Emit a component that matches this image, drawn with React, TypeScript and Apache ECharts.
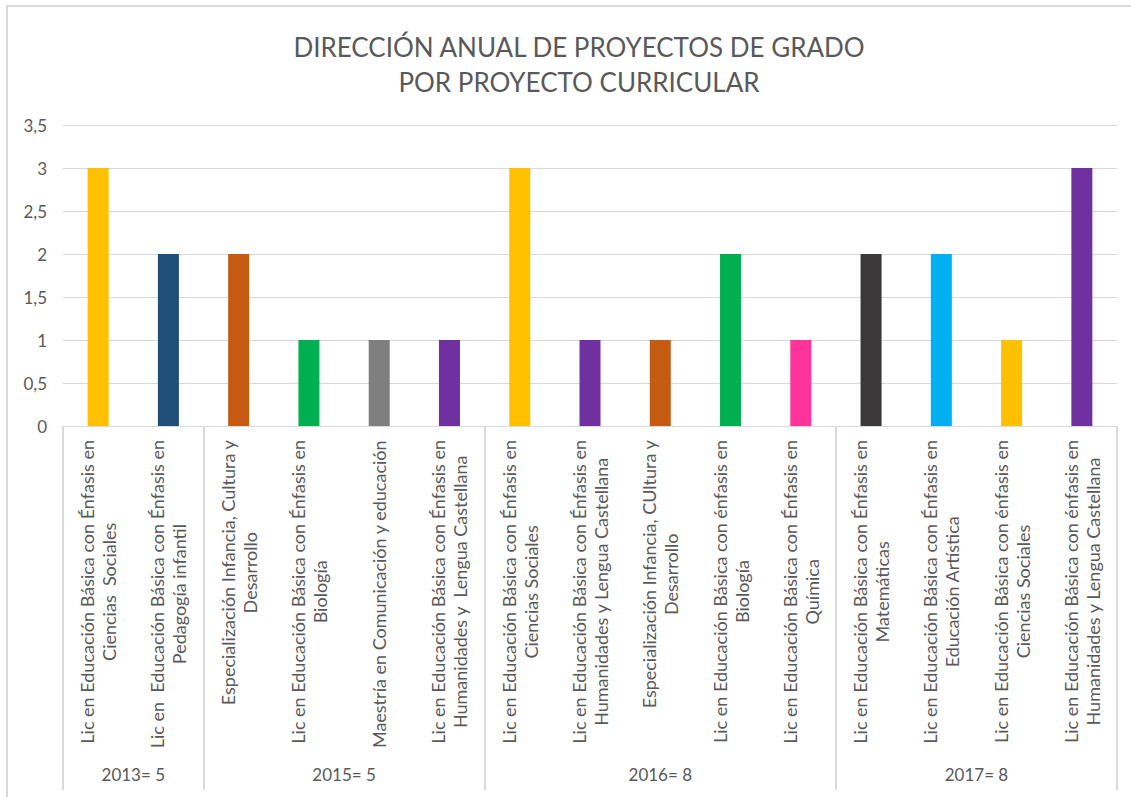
import React, { useEffect, useRef } from "react";
import * as echarts from "echarts";

const titleLines = ["DIRECCIÓN ANUAL DE PROYECTOS DE GRADO", "POR PROYECTO CURRICULAR"];

const categories = [
  "Lic en Educación Básica con Énfasis en\nCiencias  Sociales",
  "Lic en  Educación Básica con Énfasis en\nPedagogía infantil",
  "Especialización Infancia, Cultura y\nDesarrollo",
  "Lic en Educación Básica con Énfasis en\nBiología",
  "Maestría en Comunicación y educación",
  "Lic en Educación Básica con Énfasis en\nHumanidades y  Lengua Castellana",
  "Lic en Educación Básica con Énfasis en\nCiencias Sociales",
  "Lic en Educación Básica con Énfasis en\nHumanidades y Lengua Castellana",
  "Especialización Infancia, CUltura y\nDesarrollo",
  "Lic en Educación Básica con énfasis en\nBiología",
  "Lic en Educación Básica con Énfasis en\nQuímica",
  "Lic en Educación Básica con Énfasis en\nMatemáticas",
  "Lic en Educación Básica con Énfasis en\nEducación Artística",
  "Lic en Educación Básica con énfasis en\nCiencias Sociales",
  "Lic en Educación Básica con énfasis en\nHumanidades y Lengua Castellana",
];

const values = [3, 2, 2, 1, 1, 1, 3, 1, 1, 2, 1, 2, 2, 1, 3];

const barColors = [
  "#FFC000", "#1F4E79", "#C55A11", "#00B050", "#7F7F7F", "#7030A0",
  "#FFC000", "#7030A0", "#C55A11", "#00B050", "#FF3399",
  "#3A3838", "#00B0F0", "#FFC000", "#7030A0",
];

const groupNames = ["2013= 5", "2015= 5", "2016= 8", "2017= 8"];
const groupSizes = [2, 4, 5, 4];

const yTicks = { min: 0, max: 3.5, interval: 0.5 };

const FONT = "Lato";
const TEXT = "#595959";
const GRID = "#D9D9D9";

export default function App() {
  const ref = useRef<HTMLDivElement>(null);

  useEffect(() => {
    if (!ref.current) return;
    const chart = echarts.init(ref.current, null, { renderer: "svg" });

    const bounds: number[] = [0];
    groupSizes.forEach((s) => bounds.push(bounds[bounds.length - 1] + s));
    const centers = groupSizes.map((s, i) => bounds[i] + s / 2);

    chart.setOption({
      animation: false,
      backgroundColor: "#FFFFFF",
      textStyle: { fontFamily: FONT },
      title: {
        text: titleLines.join("\n"),
        left: 574,
        top: 24,
        textAlign: "center",
        textStyle: {
          fontFamily: FONT,
          fontSize: 26,
          fontWeight: "normal",
          color: TEXT,
          lineHeight: 35,
        },
      },
      graphic: [
        {
          type: "rect",
          shape: { x: 7, y: 6, width: 1140, height: 810 },
          style: { fill: "none", stroke: GRID, lineWidth: 2 },
          silent: true,
        },
      ],
      grid: { left: 63, top: 125, width: 1054, height: 301, containLabel: false },
      xAxis: [
        {
          type: "category",
          data: categories,
          position: "bottom",
          axisLine: { show: true, lineStyle: { color: GRID, width: 1 } },
          axisTick: { show: false },
          axisLabel: {
            interval: 0,
            rotate: 90,
            margin: 14,
            color: TEXT,
            fontFamily: FONT,
            fontSize: 18,
            lineHeight: 22,
            formatter: (v: string) =>
              v
                .split("\n")
                .map((l) => "{c|" + l + "}")
                .join("\n"),
            rich: {
              c: { align: "center", color: TEXT, fontFamily: FONT, fontSize: 18, lineHeight: 22 },
            },
          },
          splitLine: { show: false },
        },
        {
          type: "value",
          min: 0,
          max: categories.length,
          position: "bottom",
          axisLine: { show: false },
          splitLine: { show: false },
          axisTick: {
            show: true,
            customValues: bounds,
            length: 364,
            lineStyle: { color: GRID, width: 2 },
          },
          axisLabel: {
            show: true,
            customValues: centers,
            margin: 340,
            color: TEXT,
            fontFamily: FONT,
            fontSize: 17,
            formatter: (v: number) => {
              const i = centers.findIndex((c) => Math.abs(c - v) < 1e-6);
              return i >= 0 ? groupNames[i] : "";
            },
          },
        },
      ],
      yAxis: {
        type: "value",
        min: yTicks.min,
        max: yTicks.max,
        interval: yTicks.interval,
        axisLine: { show: false },
        axisTick: { show: false },
        axisLabel: {
          margin: 16,
          color: TEXT,
          fontFamily: FONT,
          fontSize: 17,
          formatter: (v: number) => String(v).replace(".", ","),
        },
        splitLine: { lineStyle: { color: GRID, width: 1 } },
      },
      series: [
        {
          type: "bar",
          xAxisIndex: 0,
          barWidth: 21,
          data: values.map((v, i) => ({ value: v, itemStyle: { color: barColors[i] } })),
        },
      ],
    });

    return () => chart.dispose();
  }, []);

  return (
    <div
      ref={ref}
      style={{ position: "fixed", left: 0, top: 0, width: 1131, height: 797, background: "#fff" }}
    />
  );
}
